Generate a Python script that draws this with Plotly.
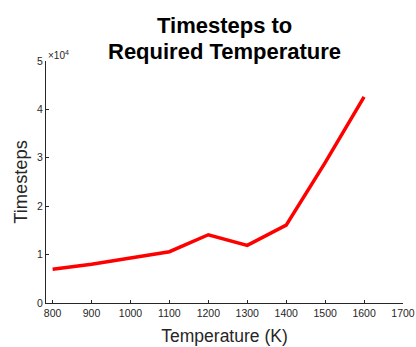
import plotly.graph_objects as go

temperature = [800, 900, 1000, 1100, 1200, 1300, 1400, 1500, 1600]
timesteps = [6970, 8000, 9300, 10600, 14100, 11900, 16100, 29000, 42600]

x_ticks = [800, 900, 1000, 1100, 1200, 1300, 1400, 1500, 1600, 1700]
y_ticks = [0, 10000, 20000, 30000, 40000, 50000]
y_tick_labels = ["0", "1", "2", "3", "4", "5"]

FONT = "Liberation Sans, Arial, Helvetica, sans-serif"
AX = "#262626"

fig = go.Figure()
fig.add_trace(go.Scatter(x=temperature, y=timesteps, mode="lines",
                         line=dict(color="#ff0000", width=3.5), showlegend=False))

fig.update_layout(
    width=416, height=347, autosize=False,
    margin=dict(l=46, r=13, t=61, b=44),
    paper_bgcolor="white", plot_bgcolor="white",
    font=dict(family=FONT, color=AX),
    xaxis=dict(range=[783, 1700], tickvals=x_ticks, showgrid=False, zeroline=False,
               automargin=False,
               showline=True, linecolor=AX, linewidth=1, ticks="inside", ticklen=3,
               tickcolor=AX, tickfont=dict(size=10.5, color=AX),
               title=dict(text="Temperature (K)", font=dict(size=17.5, color=AX), standoff=12)),
    yaxis=dict(range=[0, 50000], tickvals=y_ticks, ticktext=y_tick_labels, showgrid=False,
               automargin=False,
               zeroline=False, showline=True, linecolor=AX, linewidth=1, ticks="inside",
               ticklen=3, tickcolor=AX, tickfont=dict(size=10.5, color=AX),
               title=dict(text="Timesteps", font=dict(size=18.3, color=AX), standoff=4)),
    annotations=[
        dict(text="<b>Timesteps to</b>", xref="paper", yref="paper", x=0.5, y=1,
             yshift=21, xanchor="center", yanchor="bottom", showarrow=False,
             font=dict(size=22, color="black", family=FONT)),
        dict(text="<b>Required Temperature</b>", xref="paper", yref="paper", x=0.5, y=1,
             yshift=-5, xanchor="center", yanchor="bottom", showarrow=False,
             font=dict(size=22, color="black", family=FONT)),
        dict(text="×10<sup>4</sup>", xref="paper", yref="paper", x=0, y=1,
             xshift=0, yshift=-2, xanchor="left", yanchor="bottom", showarrow=False,
             font=dict(size=10, color=AX, family=FONT)),
    ],
)

fig.write_html("out.html", config={"displayModeBar": False},
               post_script="document.body.style.margin='0';")
